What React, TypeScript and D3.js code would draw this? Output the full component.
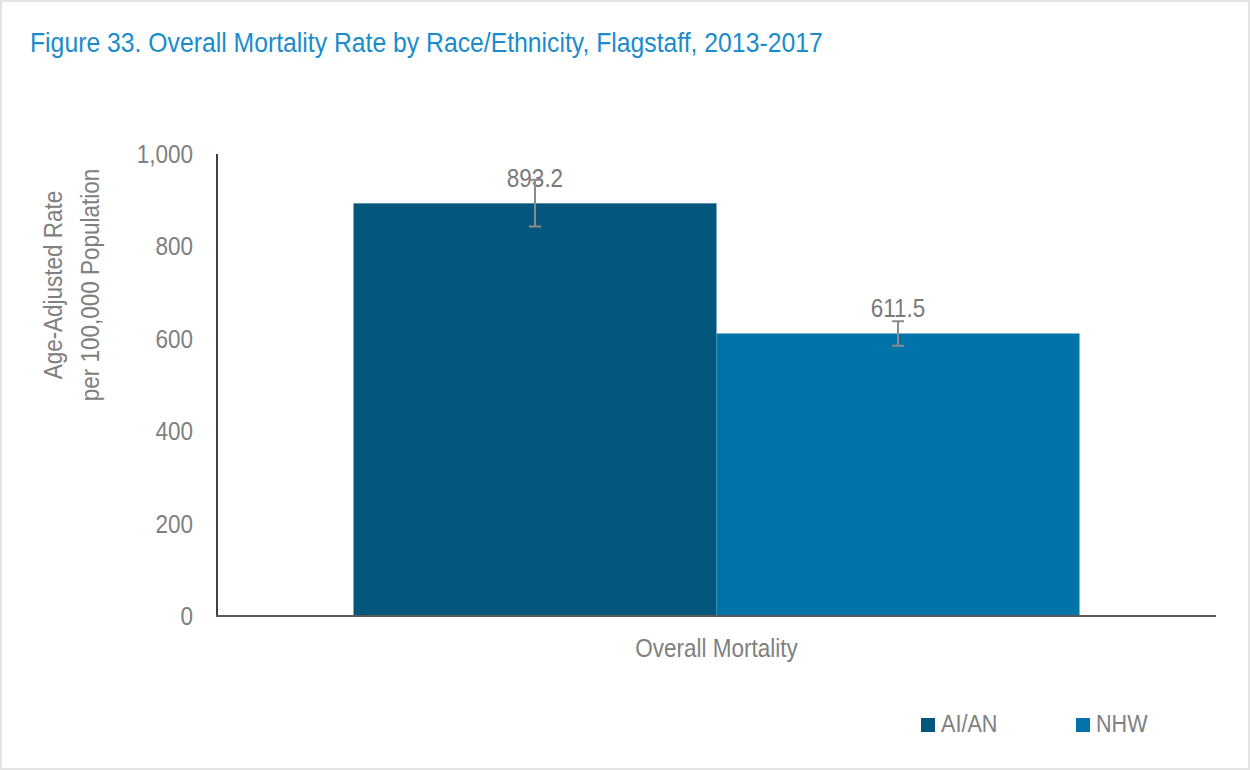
import React from "react";
import * as d3 from "d3";

const series = ["AI/AN", "NHW"];
const category = "Overall Mortality";
const values = [893.2, 611.5];
const errLow = [843, 585];
const errHigh = [944, 638];
const colors = ["#03577d", "#0073a8"];
const yTicks = [0, 200, 400, 600, 800, 1000];

const FONT = "'Liberation Sans', Arial, sans-serif";
const GRAY = "#808080";
const SX = 0.9;

function T(props: { x: number; y: number; size: number; fill: string; anchor?: string; rotate?: number; children: React.ReactNode }) {
  const { x, y, size, fill, anchor = "start", rotate = 0, children } = props;
  return (
    <text
      transform={`translate(${x},${y}) rotate(${rotate}) scale(${SX},1)`}
      textAnchor={anchor}
      fill={fill}
      fontFamily={FONT}
      fontSize={size}
    >
      {children}
    </text>
  );
}

export default function App() {
  const W = 1250, H = 770;
  const y = d3.scaleLinear().domain([0, 1000]).range([616, 154]);
  const xOuter = d3.scaleBand().domain([category]).range([217, 1216]).paddingInner(0).paddingOuter(0.188);
  const xInner = d3.scaleBand().domain(series).range([0, xOuter.bandwidth()]);
  const fmt = d3.format(",");
  const x0 = xOuter(category)!;
  return (
    <svg width={W} height={H} style={{ position: "absolute", left: 0, top: 0 }}>
      <rect x={1} y={1} width={W - 2} height={H - 2} fill="#fff" stroke="#e3e3e3" strokeWidth={2} />
      <T x={30} y={52} size={27.5} fill="#1a8ccc">
        Figure 33. Overall Mortality Rate by Race/Ethnicity, Flagstaff, 2013-2017
      </T>
      {series.map((s, i) => {
        const bx = x0 + xInner(s)!;
        const bw = xInner.bandwidth();
        const cx = bx + bw / 2;
        return (
          <g key={s}>
            <rect x={bx} y={y(values[i])} width={bw} height={y(0) - y(values[i])} fill={colors[i]} />
            <T x={cx} y={y(values[i]) - 16} anchor="middle" size={25} fill="#7a7a7a">
              {values[i].toFixed(1)}
            </T>
            <line x1={cx} x2={cx} y1={y(errHigh[i])} y2={y(errLow[i])} stroke="#8c8c8c" strokeWidth={2} />
            <line x1={cx - 6} x2={cx + 6} y1={y(errHigh[i])} y2={y(errHigh[i])} stroke="#8c8c8c" strokeWidth={2} />
            <line x1={cx - 6} x2={cx + 6} y1={y(errLow[i])} y2={y(errLow[i])} stroke="#8c8c8c" strokeWidth={2} />
          </g>
        );
      })}
      <line x1={217} x2={217} y1={154} y2={617} stroke="#404040" strokeWidth={2} />
      <line x1={216} x2={1216} y1={616} y2={616} stroke="#595959" strokeWidth={2} />
      {yTicks.map((t) => (
        <T key={t} x={193} y={y(t) + 9} anchor="end" size={25} fill={GRAY}>
          {fmt(t)}
        </T>
      ))}
      <T x={x0 + xOuter.bandwidth() / 2} y={657} anchor="middle" size={25} fill={GRAY}>
        {category}
      </T>
      <T x={62} y={285} rotate={-90} anchor="middle" size={25} fill={GRAY}>Age-Adjusted Rate</T>
      <T x={99} y={285} rotate={-90} anchor="middle" size={25} fill={GRAY}>per 100,000 Population</T>
      {series.map((s, i) => {
        const lx = [921, 1076][i];
        return (
          <g key={"lg" + s}>
            <rect x={lx} y={718} width={14} height={14} fill={colors[i]} />
            <T x={lx + 20} y={732} size={24} fill={GRAY}>{s}</T>
          </g>
        );
      })}
    </svg>
  );
}
